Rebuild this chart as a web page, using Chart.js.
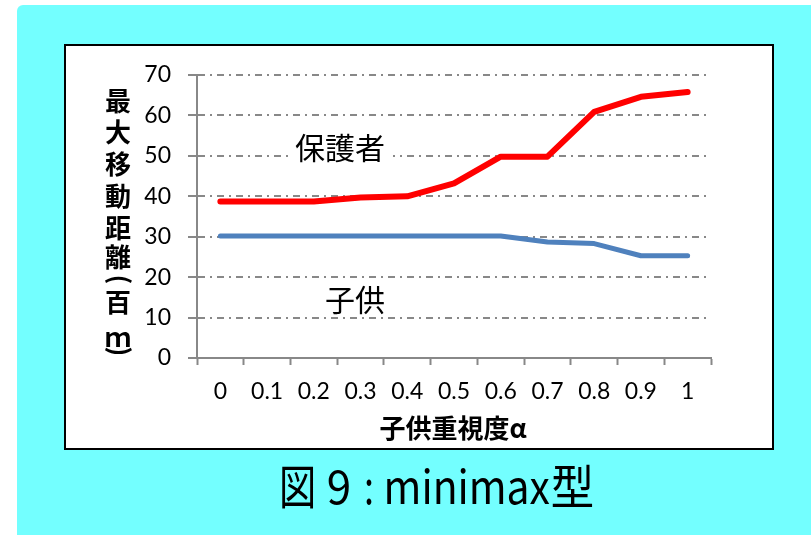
<!DOCTYPE html>
<html>
<head>
<meta charset="utf-8">
<script src="https://cdn.jsdelivr.net/npm/chart.js@4/dist/chart.umd.min.js"></script>
<style>
  html, body { margin: 0; padding: 0; background: #ffffff; }
  #wrap { position: relative; width: 811px; height: 535px; }
</style>
</head>
<body>
<div id="wrap"><canvas id="c" width="811" height="535"></canvas></div>
<script>
// 子供重視度α（横軸カテゴリ）
const alphaLabels = ['0', '0.1', '0.2', '0.3', '0.4', '0.5', '0.6', '0.7', '0.8', '0.9', '1'];
// 保護者の最大移動距離（百m）
const guardianDist = [38.7, 38.7, 38.7, 39.7, 40.0, 43.2, 49.8, 49.8, 60.9, 64.6, 65.8];
// 子供の最大移動距離（百m）
const childDist = [30.2, 30.2, 30.2, 30.2, 30.2, 30.2, 30.2, 28.7, 28.3, 25.3, 25.3];
// 縦軸の目盛り
const yMin = 0, yMax = 70, yStep = 10;

const yTitleChars = ['最', '大', '移', '動', '距', '離', '(', '百', 'ｍ', ')'];
const yTitleCenters = [101, 132, 164, 196, 228, 257, 280, 302, 337, 351];

// 図番号の各部分：[文字, 左端x, 幅]
const captionParts = [['図', 282, 31], ['9', 328, 22], [':', 366, 6], ['minimax', 387, 163], ['型', 552, 41]];

const CJK = '"Noto Sans CJK JP", "Noto Sans", sans-serif';
const TICKFONT = 'Lato, "Noto Sans", sans-serif';

const decorPlugin = {
  id: 'decor',
  beforeDraw(chart) {
    const ctx = chart.ctx;
    ctx.save();
    ctx.fillStyle = '#ffffff';
    ctx.fillRect(0, 0, 811, 535);
    // 水色の台紙
    ctx.fillStyle = '#73ffff';
    ctx.beginPath();
    ctx.roundRect(17, 5, 811 - 17 + 10, 535 - 5 + 10, 6);
    ctx.fill();
    // グラフの白枠
    ctx.fillStyle = '#ffffff';
    ctx.fillRect(65, 45, 708, 404);
    ctx.strokeStyle = '#000000';
    ctx.lineWidth = 2;
    ctx.strokeRect(65, 45, 708, 404);
    ctx.restore();
  },
  afterDraw(chart) {
    const ctx = chart.ctx;
    ctx.save();
    // 系列名
    ctx.font = '30px ' + CJK;
    ctx.textBaseline = 'middle';
    ctx.textAlign = 'left';
    ctx.fillStyle = '#ffffff';
    ctx.fillRect(292, 132, 101, 34);
    ctx.fillStyle = '#000000';
    ctx.fillText('保護者', 295, 148);
    ctx.fillText('子供', 325, 300);

    // 縦軸タイトル（縦書き、括弧は90度回転）
    yTitleChars.forEach((ch, i) => {
      const y = yTitleCenters[i];
      if (ch === '(' || ch === ')') {
        ctx.save();
        ctx.font = 'bold 26px ' + CJK;
        ctx.textAlign = 'left';
        ctx.textBaseline = 'alphabetic';
        const m = ctx.measureText(ch);
        const cx = (m.actualBoundingBoxRight - m.actualBoundingBoxLeft) / 2;
        const cy = (m.actualBoundingBoxDescent - m.actualBoundingBoxAscent) / 2;
        ctx.translate(118, y);
        ctx.rotate(Math.PI / 2);
        ctx.fillText(ch, -cx, -cy);
        ctx.restore();
      } else {
        ctx.font = 'bold 26px ' + CJK;
        ctx.textAlign = 'center';
        ctx.textBaseline = 'middle';
        ctx.fillText(ch, 118, y);
      }
    });

    // 横軸タイトル
    ctx.font = 'bold 26px ' + CJK;
    ctx.textAlign = 'center';
    ctx.textBaseline = 'middle';
    ctx.fillText('子供重視度α', 453, 428);

    // 図番号（縦長の書体）
    ctx.font = '36px ' + CJK;
    ctx.textAlign = 'left';
    ctx.textBaseline = 'alphabetic';
    captionParts.forEach(([txt, x, wTarget]) => {
      const m = ctx.measureText(txt);
      const gw = m.actualBoundingBoxRight + m.actualBoundingBoxLeft;
      const sx = wTarget / gw;
      ctx.save();
      ctx.translate(x, 504);
      ctx.scale(sx, 1.3);
      ctx.fillText(txt, m.actualBoundingBoxLeft, 0);
      ctx.restore();
    });
    ctx.restore();
  }
};

new Chart(document.getElementById('c'), {
  type: 'line',
  data: {
    labels: alphaLabels,
    datasets: [
      {
        label: '保護者',
        data: guardianDist,
        borderColor: '#ff0000',
        borderWidth: 6,
        borderCapStyle: 'round',
        borderJoinStyle: 'round',
        pointRadius: 0,
        tension: 0
      },
      {
        label: '子供',
        data: childDist,
        borderColor: '#4f81bd',
        borderWidth: 5,
        borderCapStyle: 'round',
        borderJoinStyle: 'round',
        pointRadius: 0,
        tension: 0
      }
    ]
  },
  plugins: [decorPlugin],
  options: {
    responsive: false,
    animation: false,
    devicePixelRatio: 1,
    layout: { padding: { left: 0, right: 100, top: 75, bottom: 0 } },
    plugins: {
      legend: { display: false },
      tooltip: { enabled: false },
      title: { display: false }
    },
    scales: {
      x: {
        type: 'category',
        offset: true,
        afterFit(scale) { scale.height = 535 - 358; },
        grid: {
          offset: true,
          drawOnChartArea: false,
          drawTicks: true,
          tickLength: 7,
          tickWidth: 2,
          tickColor: '#888888'
        },
        border: { display: true, color: '#888888', width: 2 },
        ticks: {
          color: '#000000',
          font: { family: TICKFONT, size: 23 },
          padding: 13,
          maxRotation: 0,
          autoSkip: false
        }
      },
      y: {
        min: yMin,
        max: yMax,
        afterFit(scale) { scale.width = 197; },
        grid: {
          color: '#888888',
          lineWidth: 2,
          drawTicks: true,
          tickLength: 9,
          tickWidth: 2,
          tickColor: '#888888'
        },
        border: { display: true, color: '#888888', width: 2, dash: [7, 5, 2, 5] },
        ticks: {
          stepSize: yStep,
          color: '#000000',
          font: { family: TICKFONT, size: 23 },
          padding: 17
        }
      }
    }
  }
});
</script>
</body>
</html>
